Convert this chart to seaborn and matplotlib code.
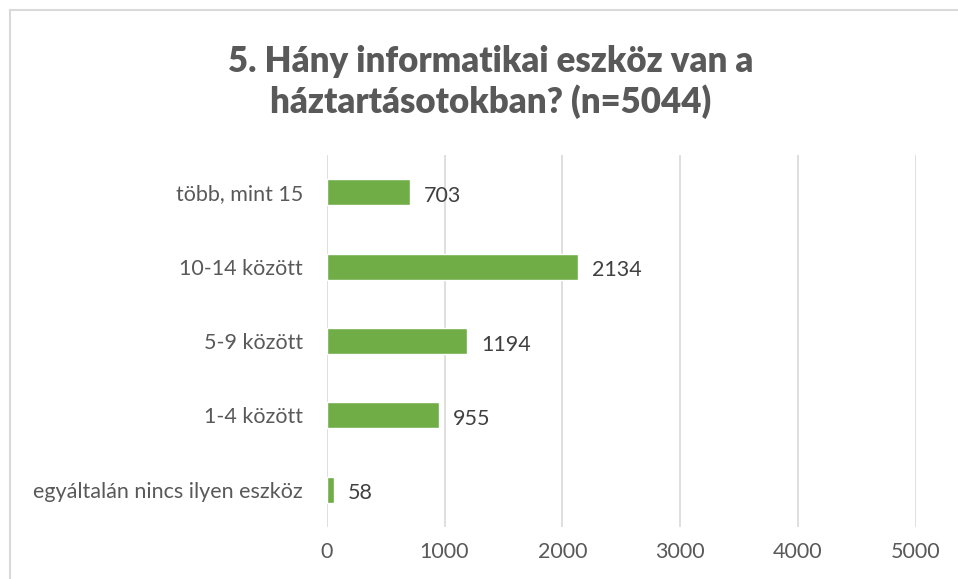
import matplotlib
matplotlib.use("Agg")
import matplotlib.pyplot as plt
import seaborn as sns
import pandas as pd

# data
categories = ["több, mint 15", "10-14 között", "5-9 között", "1-4 között",
              "egyáltalán nincs ilyen eszköz"]
values = [703, 2134, 1194, 955, 58]
xticks = [0, 1000, 2000, 3000, 4000, 5000]
title = "5. Hány informatikai eszköz van a\nháztartásotokban? (n=5044)"

sns.set_theme(style="white")
plt.rcParams['font.family'] = ['Lato', 'DejaVu Sans']

df = pd.DataFrame({"cat": categories, "val": values})

fig = plt.figure(figsize=(9.58, 5.79), dpi=100)
ax = fig.add_axes([0.341, 0.09, 0.615, 0.642])

sns.barplot(data=df, y="cat", x="val", color="#70AD47", width=0.35,
            saturation=1, ax=ax, zorder=3)

ax.set_xlim(0, 5000)
ax.set_ylim(4.5, -0.5)
ax.set_xticks(xticks)
ax.set_xticklabels([str(t) for t in xticks])
ax.grid(axis="x", color="#D9D9D9", linewidth=1.2, zorder=0)
for s in ax.spines.values():
    s.set_visible(False)
ax.set_xlabel("")
ax.set_ylabel("")
ax.tick_params(axis="x", colors="#595959", labelsize=15.5, length=0, pad=11)
ax.tick_params(axis="y", colors="#595959", labelsize=15.5, length=0, pad=17)

for i, v in enumerate(values):
    ax.text(v + 120, i + 0.05, str(v), va="center", ha="left",
            fontsize=15.5, color="#404040")

fig.text(0.512, 0.859, title, ha="center", va="center", fontsize=25,
         fontweight="heavy", color="#595959", linespacing=1.22)

# chart frame (cropped: only left and top edges visible)
fig.add_artist(plt.Line2D([0.0107, 0.0107], [0, 0.982], color="#D9D9D9",
                          linewidth=1.5, transform=fig.transFigure))
fig.add_artist(plt.Line2D([0.0107, 1], [0.982, 0.982], color="#D9D9D9",
                          linewidth=1.5, transform=fig.transFigure))

fig.savefig("out.png", dpi=100)
